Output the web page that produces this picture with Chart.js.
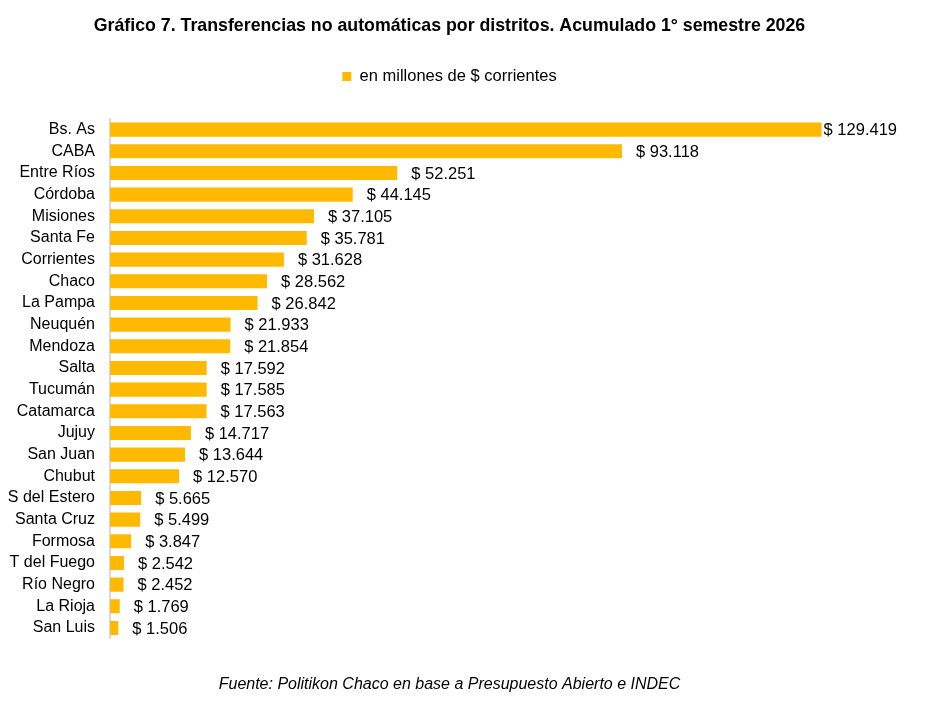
<!DOCTYPE html>
<html>
<head>
<meta charset="utf-8">
<script src="https://cdn.jsdelivr.net/npm/chart.js@4"></script>
<style>
  body { margin: 0; background: #fff; }
  #wrap { width: 899px; height: 720px; }
</style>
</head>
<body>
<div id="wrap"><canvas id="chart" width="899" height="720"></canvas></div>
<script>
const districts = ['Bs. As', 'CABA', 'Entre Ríos', 'Córdoba', 'Misiones', 'Santa Fe', 'Corrientes',
    'Chaco', 'La Pampa', 'Neuquén', 'Mendoza', 'Salta', 'Tucumán', 'Catamarca', 'Jujuy', 'San Juan',
    'Chubut', 'S del Estero', 'Santa Cruz', 'Formosa', 'T del Fuego', 'Río Negro', 'La Rioja', 'San Luis'];
const transfers = [129419, 93118, 52251, 44145, 37105, 35781, 31628, 28562, 26842, 21933, 21854,
    17592, 17585, 17563, 14717, 13644, 12570, 5665, 5499, 3847, 2542, 2452, 1769, 1506];
const seriesLabel = 'en millones de $ corrientes';
const titleText = 'Gráfico 7. Transferencias no automáticas por distritos. Acumulado 1° semestre 2026';
const sourceText = 'Fuente: Politikon Chaco en base a Presupuesto Abierto e INDEC';
const xMax = 143500;

const FONT = "'Liberation Sans', Arial, sans-serif";
const BAR_COLOR = '#FFB900';

function fmt(v) {
    return '$ ' + String(v).replace(/\B(?=(\d{3})+(?!\d))/g, '.');
}

// etiquetas de valor al final de cada barra
const valueLabels = {
    id: 'valueLabels',
    afterDatasetsDraw(chart) {
        const ctx = chart.ctx;
        const meta = chart.getDatasetMeta(0);
        ctx.save();
        ctx.font = '16.5px ' + FONT;
        ctx.fillStyle = '#000';
        ctx.textBaseline = 'middle';
        ctx.textAlign = 'left';
        meta.data.forEach((bar, i) => {
            const text = fmt(transfers[i]);
            const w = ctx.measureText(text).width;
            let x = bar.x + 14;
            if (x + w > chart.width - 2) x = chart.width - 2 - w;
            ctx.fillText(text, x, bar.y + 1);
        });
        ctx.restore();
    }
};

new Chart(document.getElementById('chart'), {
    type: 'bar',
    data: {
        labels: districts,
        datasets: [{
            label: seriesLabel,
            data: transfers,
            backgroundColor: BAR_COLOR,
            borderWidth: 0,
            categoryPercentage: 1,
            barPercentage: 0.65
        }]
    },
    options: {
        indexAxis: 'y',
        responsive: false,
        animation: false,
        layout: { padding: 0 },
        scales: {
            x: {
                position: 'top',
                min: 0,
                max: xMax,
                grid: { display: false, drawTicks: false },
                border: { display: false },
                ticks: { display: false },
                afterFit(scale) { scale.height = 24; }
            },
            y: {
                grid: { display: false, drawTicks: false },
                border: { display: true, color: '#d9d9d9', width: 2 },
                ticks: { color: '#000', font: { family: FONT, size: 16 }, padding: 15, autoSkip: false },
                afterFit(scale) { scale.width = 110; }
            }
        },
        plugins: {
            title: {
                display: true,
                text: titleText,
                color: '#000',
                font: { family: FONT, size: 17.75, weight: 'bold' },
                padding: { top: 15, bottom: 22 }
            },
            legend: {
                display: true,
                labels: {
                    color: '#000',
                    font: { family: FONT, size: 16.5 },
                    boxWidth: 9,
                    boxHeight: 9,
                    padding: 10
                }
            },
            subtitle: {
                display: true,
                position: 'bottom',
                text: sourceText,
                color: '#000',
                font: { family: FONT, size: 16, style: 'italic' },
                padding: { top: 36, bottom: 26 }
            },
            tooltip: { enabled: false }
        }
    },
    plugins: [valueLabels]
});
</script>
</body>
</html>
